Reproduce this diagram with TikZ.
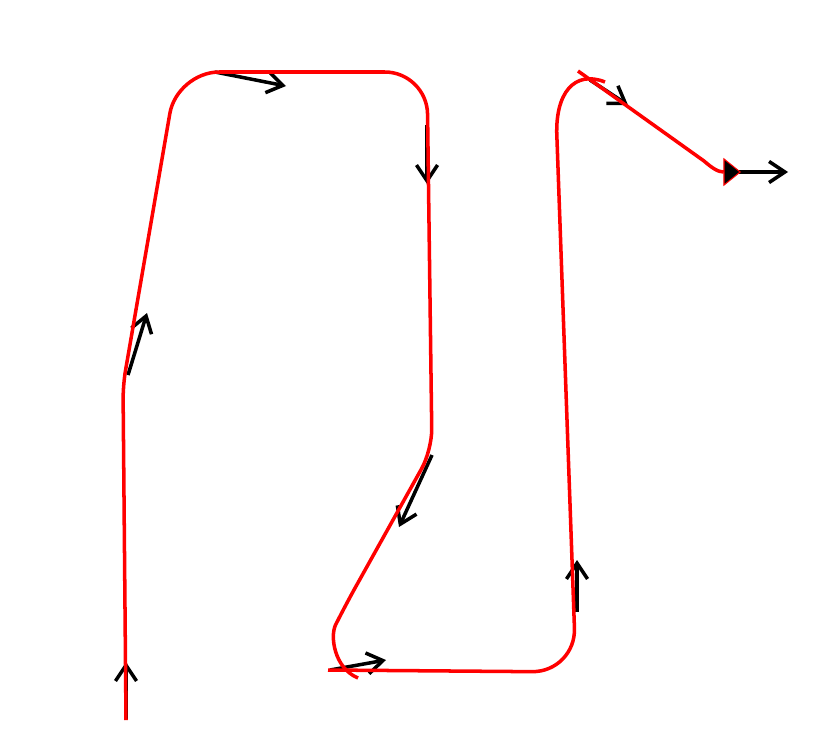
\documentclass[tikz,border=0pt]{standalone}
\usetikzlibrary{arrows.meta}
\tikzset{
  trace/.style={line width=2pt, color=red, line join=round},
  tangent/.style={line width=2pt, color=black, -{Straight Barb[length=9pt,width=12pt]}},
}
\begin{document}
\begin{tikzpicture}[x=0.02cm,y=-0.02cm]
  \useasboundingbox (0,0) rectangle (830,751);

  % tangent vectors along the curve
  \coordinate (v1a) at (126,720);  \coordinate (v1b) at (126,662);
  \coordinate (v2a) at (128,375);  \coordinate (v2b) at (147,313);
  \coordinate (v3a) at (215,72);   \coordinate (v3b) at (286,86);
  \coordinate (v4a) at (427,125);  \coordinate (v4b) at (427,184);
  \coordinate (v5a) at (432,455);  \coordinate (v5b) at (399,527);
  \coordinate (v6a) at (330,670);  \coordinate (v6b) at (386,660);
  \coordinate (v7a) at (577,612);  \coordinate (v7b) at (577,560);
  \coordinate (v8a) at (590,80);   \coordinate (v8b) at (628,105);
  \coordinate (v9a) at (733,172);  \coordinate (v9b) at (788,172);

  \draw [tangent] (v1a) -- (v1b);
  \draw [tangent] (v2a) -- (v2b);
  \draw [tangent] (v3a) -- (v3b);
  \draw [tangent] (v4a) -- (v4b);
  \draw [tangent] (v5a) -- (v5b);
  \draw [tangent] (v6a) -- (v6b);
  \draw [tangent] (v7a) -- (v7b);
  \draw [tangent] (v8a) -- (v8b);
  \draw [tangent] (v9a) -- (v9b);

  % the curve, in pieces
  \draw [trace] (126,720) [rounded corners=8pt] -- (123,385) [rounded corners=24pt] -- (177,72) -- (427,72)
    [rounded corners=12pt] -- (432,450) -- (345,606) [sharp corners] .. controls (330,636) and (334,668) .. (358,678);
  \draw [trace, rounded corners=25pt] (328,670) -- (576,672) -- (557,140);
  \draw [trace] (557,140) .. controls (554,92) and (575,70) .. (605,82);
  \draw [trace, -{Triangle[length=10pt,width=16pt,fill=black,line width=0.6pt]}] (578,71) -- (704,161)
    .. controls (712,168) and (718,172) .. (741,172);

\end{tikzpicture}
\end{document}
